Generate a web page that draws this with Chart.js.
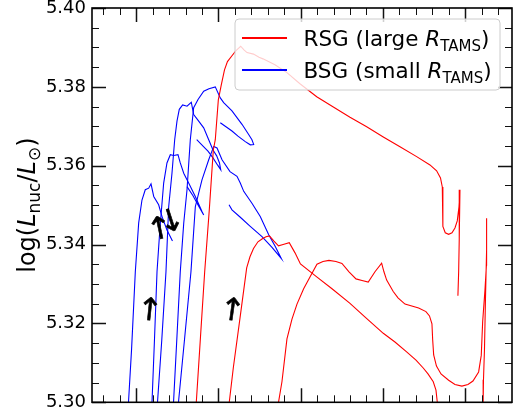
<!DOCTYPE html>
<html><head><meta charset="utf-8">
<script src="https://cdn.jsdelivr.net/npm/chart.js@4.4.1/dist/chart.umd.min.js"></script>
<style>html,body{margin:0;padding:0;background:#fff}#wrap{width:516px;height:415px}</style>
</head><body><div id="wrap"><canvas id="c" width="516" height="415"></canvas></div>
<script>
// ---- data (x: arbitrary unlabeled axis units, y: log(Lnuc/Lsun)) ----
const rsg1X = [1.730,1.781,1.832,1.888,1.937,1.961,1.998,2.034,2.073,2.109,2.164,2.213,2.270,2.310,2.347,2.426,2.493,2.541,2.687,2.833,2.991,3.195,3.397,3.600,3.803,4.005,4.208,4.411,4.573,4.654,4.701,4.723,4.729,4.731,4.759,4.800,4.841,4.877,4.905,4.926,4.938,4.929,4.922,4.913];
const rsg1Y = [5.3000,5.3166,5.3331,5.3488,5.3640,5.3666,5.3767,5.3805,5.3843,5.3864,5.3879,5.3892,5.3903,5.3894,5.3887,5.3883,5.3875,5.3871,5.3856,5.3836,5.3808,5.3775,5.3749,5.3723,5.3699,5.3673,5.3648,5.3623,5.3602,5.3587,5.3569,5.3546,5.3513,5.3446,5.3430,5.3426,5.3430,5.3442,5.3460,5.3496,5.3539,5.3412,5.3331,5.3270];
const rsg2X = [2.131,2.180,2.262,2.343,2.383,2.426,2.480,2.529,2.578,2.620,2.675,2.730,2.797,2.861,2.931,2.997,3.195,3.381,3.600,3.794,4.005,4.147,4.289,4.403,4.491,4.549,4.613,4.646,4.662];
const rsg2Y = [5.3000,5.3087,5.3214,5.3341,5.3369,5.3390,5.3407,5.3414,5.3420,5.3422,5.3409,5.3397,5.3401,5.3405,5.3379,5.3351,5.3318,5.3288,5.3251,5.3214,5.3175,5.3153,5.3128,5.3107,5.3087,5.3072,5.3052,5.3031,5.3000];
const rsg3X = [2.730,2.772,2.833,2.894,2.955,3.036,3.113,3.198,3.271,3.344,3.429,3.502,3.588,3.673,3.746,3.822,3.904,3.985,4.013,4.046,4.126,4.184,4.269,4.435,4.524,4.567,4.597,4.606,4.618,4.652,4.707,4.800,4.877,4.962,5.035,5.096,5.165,5.197,5.214,5.242,5.260,5.264,5.260,5.248,5.236,5.224,5.220];
const rsg3Y = [5.3000,5.3052,5.3161,5.3211,5.3249,5.3288,5.3318,5.3350,5.3357,5.3360,5.3357,5.3352,5.3331,5.3313,5.3309,5.3305,5.3331,5.3353,5.3331,5.3310,5.3281,5.3265,5.3249,5.3239,5.3230,5.3219,5.3199,5.3158,5.3120,5.3092,5.3072,5.3056,5.3045,5.3041,5.3045,5.3054,5.3077,5.3119,5.3204,5.3285,5.3348,5.3467,5.3387,5.3260,5.3133,5.3057,5.3000];

const bsg1X = [0.905,0.942,0.988,1.029,1.069,1.109,1.151,1.179,1.212,1.272,1.313,1.373,1.440];
const bsg1Y = [5.3000,5.3133,5.3331,5.3455,5.3513,5.3539,5.3543,5.3554,5.3522,5.3501,5.3471,5.3437,5.3409];
const bsg2X = [1.191,1.221,1.252,1.288,1.333,1.373,1.414,1.455,1.507,1.535,1.577,1.637,1.718,1.799,1.820,1.763,1.690,1.617];
const bsg2Y = [5.3000,5.3158,5.3331,5.3442,5.3556,5.3607,5.3628,5.3626,5.3628,5.3607,5.3581,5.3556,5.3522,5.3484,5.3475,5.3496,5.3524,5.3547];
const bsg3X = [1.258,1.310,1.361,1.394,1.434,1.467,1.495,1.523,1.564,1.617,1.669,1.698,1.759,1.820,1.881,1.933,1.978,2.012,2.027,1.988,1.933,1.872,1.815,1.735];
const bsg3Y = [5.3000,5.3158,5.3331,5.3496,5.3581,5.3666,5.3713,5.3743,5.3754,5.3751,5.3761,5.3730,5.3713,5.3696,5.3666,5.3640,5.3625,5.3607,5.3590,5.3602,5.3620,5.3637,5.3649,5.3666];
const bsg4X = [1.453,1.495,1.535,1.577,1.617,1.657,1.698,1.751,1.820,1.884,1.961,2.022,2.063,2.164,2.286,2.367,2.407,2.428,2.387,2.326,2.237,2.164,2.022];
const bsg4Y = [5.3000,5.3168,5.3331,5.3454,5.3539,5.3666,5.3747,5.3768,5.3789,5.3795,5.3800,5.3772,5.3760,5.3739,5.3705,5.3679,5.3666,5.3654,5.3653,5.3661,5.3675,5.3688,5.3709];
const bsg5X = [1.513,1.586,1.665,1.718,1.799,1.881,1.942,1.982,2.043,2.140,2.225,2.265,2.307,2.407,2.508,2.611,2.691,2.764,2.651,2.529,2.383,2.262,2.164,2.128];
const bsg5Y = [5.3000,5.3158,5.3331,5.3496,5.3564,5.3615,5.3649,5.3645,5.3615,5.3585,5.3573,5.3556,5.3535,5.3505,5.3471,5.3425,5.3395,5.3365,5.3393,5.3420,5.3447,5.3470,5.3488,5.3501];

const yTickLabels = [5.30, 5.32, 5.34, 5.36, 5.38, 5.40];
const xMajorTicks = [1, 2, 3, 4, 5];

const arrowX = [1.161, 2.164, 1.288, 1.434];
const arrowY = [5.3229, 5.3229, 5.3435, 5.3455];
const arrowChar = ['\u2191', '\u2191', '\u2191', '\u2193'];
const arrowRot = [6, 8, -12, -18];

const legendItems = [
  {color: '#ff0000', pre: 'RSG (large ', it: 'R', sub: 'TAMS', post: ')'},
  {color: '#0000ff', pre: 'BSG (small ', it: 'R', sub: 'TAMS', post: ')'}
];

const FONT = 'DejaVu Sans';
const zip = (xs, ys) => xs.map((x, i) => ({x, y: ys[i]}));
const line = (xs, ys, c) => ({data: zip(xs, ys), borderColor: c, borderWidth: 1.1, showLine: true, pointRadius: 0, fill: false, tension: 0});

function drawRuns(ctx, runs, x, y, align) {
  let w = 0;
  runs.forEach(r => { ctx.font = r.font; r.w = ctx.measureText(r.t).width; w += r.w; });
  let cx = align === 'center' ? x - w / 2 : x;
  runs.forEach(r => { ctx.font = r.font; ctx.fillText(r.t, cx, y + (r.dy || 0)); cx += r.w; });
}

const deco = {
  id: 'deco',
  afterDatasetsDraw(chart) {
    const {ctx, chartArea: a, scales: {x, y}} = chart;
    ctx.save();
    ctx.strokeStyle = '#111';
    for (let k = 0; k <= 20; k++) {
      const v = 5.30 + k * 0.005;
      const py = Math.round(y.getPixelForValue(v)) + 0.5;
      const major = k % 4 === 0;
      const L = major ? 14 : 7;
      ctx.lineWidth = major ? 1.5 : 1;
      ctx.beginPath();
      ctx.moveTo(a.left, py); ctx.lineTo(a.left + L, py);
      ctx.moveTo(a.right, py); ctx.lineTo(a.right - L, py);
      ctx.stroke();
    }
    for (let k = -5; k <= 25; k++) {
      const u = 1 + k * 0.2;
      if (u < x.min || u > x.max) continue;
      const px = Math.round(x.getPixelForValue(u)) + 0.5;
      const major = xMajorTicks.some(m => Math.abs(m - u) < 1e-6);
      const L = major ? 14 : 7;
      ctx.lineWidth = major ? 1.5 : 1;
      ctx.beginPath();
      ctx.moveTo(px, a.bottom); ctx.lineTo(px, a.bottom - L);
      ctx.moveTo(px, a.top); ctx.lineTo(px, a.top + L);
      ctx.stroke();
    }
    ctx.lineWidth = 1.6;
    ctx.strokeStyle = '#000';
    ctx.strokeRect(a.left, a.top, a.right - a.left, a.bottom - a.top);

    // arrows
    ctx.fillStyle = '#000';
    ctx.textAlign = 'center';
    ctx.textBaseline = 'middle';
    for (let i = 0; i < arrowX.length; i++) {
      ctx.save();
      ctx.translate(x.getPixelForValue(arrowX[i]), y.getPixelForValue(arrowY[i]));
      ctx.rotate(arrowRot[i] * Math.PI / 180);
      ctx.font = '31px ' + FONT;
      ctx.fillText(arrowChar[i], 0, 0);
      ctx.lineWidth = 0.6; ctx.strokeStyle = '#000';
      ctx.strokeText(arrowChar[i], 0, 0);
      ctx.restore();
    }
    ctx.textAlign = 'left';
    ctx.textBaseline = 'alphabetic';

    // legend
    const bx = 235, by = 19, bw = 265, bh = 71, r = 4;
    ctx.beginPath();
    ctx.moveTo(bx + r, by); ctx.lineTo(bx + bw - r, by); ctx.quadraticCurveTo(bx + bw, by, bx + bw, by + r);
    ctx.lineTo(bx + bw, by + bh - r); ctx.quadraticCurveTo(bx + bw, by + bh, bx + bw - r, by + bh);
    ctx.lineTo(bx + r, by + bh); ctx.quadraticCurveTo(bx, by + bh, bx, by + bh - r);
    ctx.lineTo(bx, by + r); ctx.quadraticCurveTo(bx, by, bx + r, by);
    ctx.closePath();
    ctx.fillStyle = 'rgba(255,255,255,0.8)';
    ctx.fill();
    ctx.strokeStyle = '#cccccc';
    ctx.lineWidth = 1;
    ctx.stroke();
    legendItems.forEach((it, i) => {
      const cy = 38 + i * 32;
      ctx.strokeStyle = it.color; ctx.lineWidth = 2;
      ctx.beginPath(); ctx.moveTo(242, cy); ctx.lineTo(287, cy); ctx.stroke();
      ctx.fillStyle = '#000';
      drawRuns(ctx, [
        {t: it.pre, font: '21.5px ' + FONT},
        {t: it.it, font: 'italic 21.5px ' + FONT},
        {t: it.sub, font: '15px ' + FONT, dy: 4.5},
        {t: it.post, font: '21.5px ' + FONT}
      ], 303.5, cy + 8, 'left');
    });

    // y title
    ctx.save();
    ctx.translate(35, (a.top + a.bottom) / 2);
    ctx.rotate(-Math.PI / 2);
    ctx.fillStyle = '#000';
    drawRuns(ctx, [
      {t: 'log(', font: '24px ' + FONT},
      {t: 'L', font: 'italic 24px ' + FONT},
      {t: 'nuc', font: '17px ' + FONT, dy: 5},
      {t: '/', font: '24px ' + FONT},
      {t: 'L', font: 'italic 24px ' + FONT},
      {t: '\u2299', font: '17px ' + FONT, dy: 5},
      {t: ')', font: '24px ' + FONT}
    ], 0, 0, 'center');
    ctx.restore();
    ctx.restore();
  }
};

new Chart(document.getElementById('c'), {
  type: 'scatter',
  data: {
    datasets: [
      line(rsg1X, rsg1Y, '#ff0000'),
      line(rsg2X, rsg2Y, '#ff0000'),
      line(rsg3X, rsg3Y, '#ff0000'),
      line(bsg1X, bsg1Y, '#0000ff'),
      line(bsg2X, bsg2Y, '#0000ff'),
      line(bsg3X, bsg3Y, '#0000ff'),
      line(bsg4X, bsg4Y, '#0000ff'),
      line(bsg5X, bsg5Y, '#0000ff')
    ]
  },
  options: {
    responsive: false,
    devicePixelRatio: 1,
    animation: false,
    layout: {padding: {top: 8, right: 4, bottom: 12.7, left: 0}},
    plugins: {legend: {display: false}, tooltip: {enabled: false}},
    scales: {
      x: {type: 'linear', min: 0.461, max: 5.571, display: false},
      y: {
        type: 'linear', min: 5.30, max: 5.40,
        afterBuildTicks: s => { s.ticks = yTickLabels.map(v => ({value: v})); },
        afterFit: s => { s.width = 92; s.paddingTop = 0; s.paddingBottom = 0; },
        ticks: {callback: v => Number(v).toFixed(2), font: {family: FONT, size: 18}, color: '#000', padding: 6},
        grid: {display: false, drawTicks: false},
        border: {display: false}
      }
    }
  },
  plugins: [deco]
});
</script>
</body></html>
